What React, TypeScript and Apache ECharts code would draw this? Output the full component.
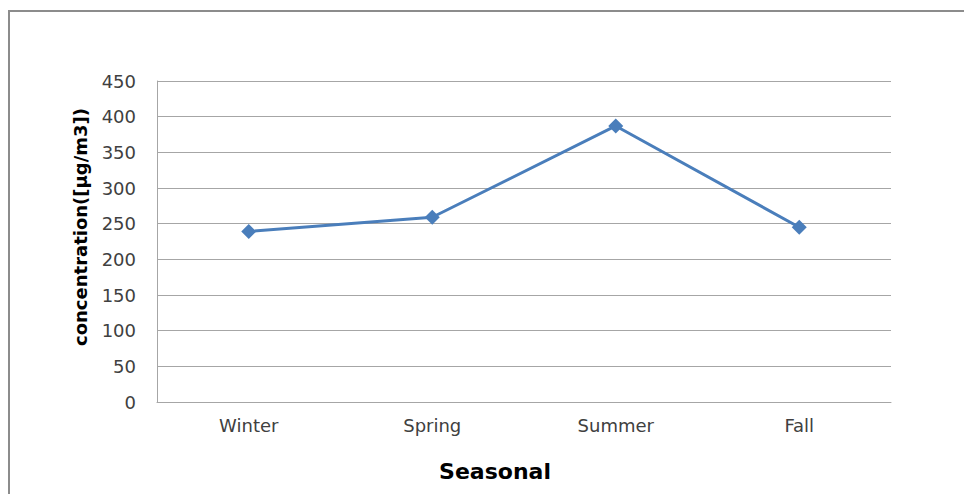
import React, { useEffect, useRef } from "react";
import * as echarts from "echarts";

const categories = ["Winter", "Spring", "Summer", "Fall"];
const concentration = [239, 259, 387, 245];
const yTicks = [0, 50, 100, 150, 200, 250, 300, 350, 400, 450];
const xAxisTitle = "Seasonal";
const yAxisTitle = "concentration([µg/m3])";

export default function App() {
  const ref = useRef<HTMLDivElement>(null);
  useEffect(() => {
    if (!ref.current) return;
    const chart = echarts.init(ref.current, null, { renderer: "svg" });
    chart.setOption({
      animation: false,
      backgroundColor: "#ffffff",
      graphic: [
        {
          type: "rect",
          shape: { x: 9, y: 11, width: 1000, height: 600 },
          style: { fill: "none", stroke: "#8c8c8c", lineWidth: 2 },
          silent: true,
        },
        {
          type: "text",
          x: 495,
          y: 471,
          style: {
            text: xAxisTitle,
            fontFamily: "DejaVu Sans",
            fontWeight: "bold",
            fontSize: 22,
            fill: "#000000",
            align: "center",
            verticalAlign: "middle",
          },
          silent: true,
        },
        {
          type: "text",
          x: 80,
          y: 227,
          rotation: Math.PI / 2,
          style: {
            text: yAxisTitle,
            fontFamily: "DejaVu Sans",
            fontWeight: "bold",
            fontSize: 18,
            fill: "#000000",
            align: "center",
            verticalAlign: "middle",
          },
          silent: true,
        },
      ],
      grid: { left: 157, top: 81, right: 73, bottom: 92, containLabel: false },
      xAxis: {
        type: "category",
        data: categories,
        boundaryGap: true,
        axisLine: { show: true, lineStyle: { color: "#a6a6a6", width: 1 } },
        axisTick: { show: false },
        axisLabel: { fontFamily: "DejaVu Sans", fontSize: 18, color: "#404040", margin: 14 },
      },
      yAxis: {
        type: "value",
        min: yTicks[0],
        max: yTicks[yTicks.length - 1],
        interval: 50,
        axisLine: { show: true, lineStyle: { color: "#a6a6a6", width: 1 } },
        axisTick: { show: false },
        splitLine: { show: true, lineStyle: { color: "#a6a6a6", width: 1 } },
        axisLabel: { fontFamily: "DejaVu Sans", fontSize: 18, color: "#404040", margin: 21 },
      },
      series: [
        {
          type: "line",
          data: concentration,
          symbol: "diamond",
          symbolSize: 15,
          lineStyle: { color: "#4a7ebb", width: 3 },
          itemStyle: { color: "#4a7ebb" },
        },
      ],
    });
    return () => chart.dispose();
  }, []);
  return (
    <div
      ref={ref}
      style={{ position: "absolute", left: 0, top: 0, width: 964, height: 494 }}
    />
  );
}
